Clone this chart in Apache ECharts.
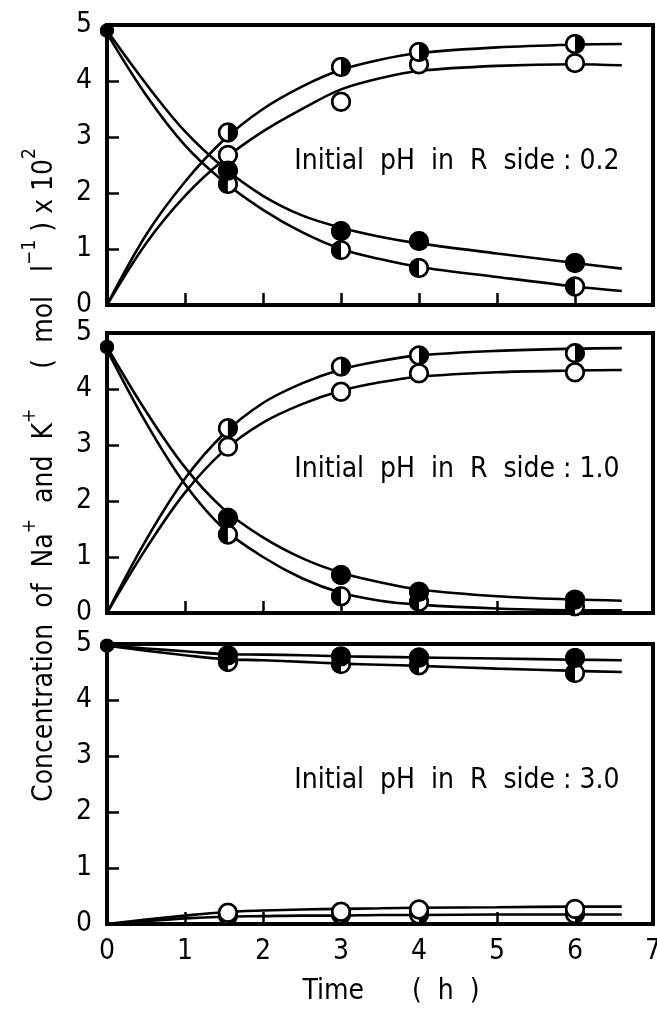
<!DOCTYPE html>
<html>
<head>
<meta charset="utf-8">
<script src="https://cdn.jsdelivr.net/npm/echarts@6/dist/echarts.min.js"></script>
<style>
  html, body { margin: 0; padding: 0; background: #fff; }
  #chart { width: 657px; height: 1027px; }
</style>
</head>
<body>
<div id="chart"></div>
<script>
// time axis (h)
const xTicks = [0, 1, 2, 3, 4, 5, 6, 7];
const yTicks = [0, 1, 2, 3, 4, 5];
const markerTimes = [1.55, 3, 4, 6];
const fitTimes = [0, 0.5, 1, 1.5, 2, 2.5, 3, 3.5, 4, 5, 6, 6.6];
const panelLabels = ["Initial  pH  in  R  side : 0.2", "Initial  pH  in  R  side : 1.0", "Initial  pH  in  R  side : 3.0"];

// start value of the falling curves (t = 0)
const startValues = [4.9, 4.75, 4.97];

// measured points, per panel: halfRight (◑), open (○), filled (●), halfLeft (◐)
const p1HalfRight = [3.08, 4.25, 4.52, 4.66];
const p1Open = [2.68, 3.63, 4.3, 4.32];
const p1Filled = [2.4, 1.32, 1.14, 0.75];
const p1HalfLeft = [2.16, 0.98, 0.66, 0.33];

const p2HalfRight = [3.3, 4.4, 4.6, 4.64];
const p2Open = [2.97, 3.95, 4.28, 4.3];
const p2Filled = [1.7, 0.68, 0.38, 0.24];
const p2HalfLeft = [1.4, 0.3, 0.2, 0.12];

const p3HalfRight = [0.15, 0.17, 0.17, 0.18];
const p3Open = [0.2, 0.22, 0.26, 0.27];
const p3Filled = [4.8, 4.78, 4.76, 4.75];
const p3HalfLeft = [4.68, 4.64, 4.62, 4.48];

// fitted curves (at fitTimes)
const p1FitHalfRight = [0, 1.25, 2.2, 2.95, 3.5, 3.9, 4.2, 4.38, 4.5, 4.6, 4.65, 4.66];
const p1FitOpen = [0, 1.1, 1.95, 2.6, 3.1, 3.5, 3.85, 4.05, 4.18, 4.27, 4.3, 4.28];
const p1FitFilled = [4.9, 3.95, 3.1, 2.45, 1.95, 1.6, 1.38, 1.22, 1.1, 0.92, 0.75, 0.65];
const p1FitHalfLeft = [4.85, 3.75, 2.85, 2.2, 1.7, 1.3, 1.0, 0.82, 0.68, 0.5, 0.33, 0.25];

const p2FitHalfRight = [0, 1.3, 2.4, 3.2, 3.75, 4.1, 4.35, 4.5, 4.6, 4.68, 4.72, 4.73];
const p2FitOpen = [0, 1.15, 2.15, 2.9, 3.4, 3.73, 3.97, 4.12, 4.22, 4.3, 4.33, 4.34];
const p2FitFilled = [4.75, 3.6, 2.6, 1.85, 1.35, 0.98, 0.72, 0.55, 0.42, 0.3, 0.24, 0.22];
const p2FitHalfLeft = [4.7, 3.4, 2.3, 1.5, 1.0, 0.62, 0.36, 0.22, 0.15, 0.08, 0.05, 0.05];

const p3FitHalfRight = [0, 0.05, 0.1, 0.13, 0.14, 0.15, 0.15, 0.16, 0.16, 0.17, 0.17, 0.17];
const p3FitOpen = [0, 0.08, 0.15, 0.21, 0.24, 0.26, 0.27, 0.28, 0.29, 0.3, 0.31, 0.31];
const p3FitFilled = [4.97, 4.92, 4.87, 4.82, 4.81, 4.8, 4.78, 4.77, 4.76, 4.74, 4.72, 4.71];
const p3FitHalfLeft = [4.97, 4.88, 4.8, 4.73, 4.71, 4.68, 4.65, 4.63, 4.61, 4.56, 4.52, 4.5];

const FONT = '"Liberation Sans Narrow", "DejaVu Sans Condensed", "Liberation Sans", sans-serif';

const svgSym = (half) => {
  let fill = "";
  if (half === "right") fill = "<path d='M10 1.6 A8.4 8.4 0 0 1 10 18.4 Z' fill='black'/>";
  if (half === "left") fill = "<path d='M10 1.6 A8.4 8.4 0 0 0 10 18.4 Z' fill='black'/>";
  const bg = half === "full" ? "black" : "white";
  const svg = "<svg xmlns='http://www.w3.org/2000/svg' width='20' height='20'>" +
    "<circle cx='10' cy='10' r='8.4' fill='" + bg + "' stroke='black' stroke-width='2.6'/>" + fill + "</svg>";
  return "image://data:image/svg+xml;charset=utf-8," + encodeURIComponent(svg);
};
const SYM = { halfRight: svgSym("right"), open: svgSym("none"), filled: svgSym("full"), halfLeft: svgSym("left") };

const panels = [
  { top: 25, marks: { halfRight: p1HalfRight, open: p1Open, filled: p1Filled, halfLeft: p1HalfLeft },
    fits: [p1FitHalfRight, p1FitOpen, p1FitFilled, p1FitHalfLeft] },
  { top: 333, marks: { halfRight: p2HalfRight, open: p2Open, filled: p2Filled, halfLeft: p2HalfLeft },
    fits: [p2FitHalfRight, p2FitOpen, p2FitFilled, p2FitHalfLeft] },
  { top: 644, marks: { halfRight: p3HalfRight, open: p3Open, filled: p3Filled, halfLeft: p3HalfLeft },
    fits: [p3FitHalfRight, p3FitOpen, p3FitFilled, p3FitHalfLeft] },
];

const grids = [], xAxes = [], yAxes = [], series = [];
panels.forEach((p, i) => {
  grids.push({
    left: 107, width: 546, top: p.top, height: 280,
    show: true, borderColor: "#000", borderWidth: 4, backgroundColor: "transparent",
    containLabel: false, outerBoundsMode: "none",
  });
  xAxes.push({
    gridIndex: i, type: "value", min: 0, max: 7, interval: 1,
    axisLine: { show: false },
    axisTick: { show: true, inside: true, length: 12, lineStyle: { color: "#000", width: 2.5 } },
    splitLine: { show: false },
    axisLabel: { show: i === 2, color: "#000", fontSize: 28, fontFamily: FONT, margin: 14,
      formatter: (v) => (xTicks.includes(v) ? String(v) : "") },
  });
  yAxes.push({
    gridIndex: i, type: "value", min: 0, max: 5, interval: 1,
    axisLine: { show: false },
    axisTick: { show: true, inside: true, length: 12, lineStyle: { color: "#000", width: 2.5 } },
    splitLine: { show: false },
    axisLabel: { color: "#000", fontSize: 28, fontFamily: FONT, margin: 15,
      formatter: (v) => (yTicks.includes(v) ? String(v) : "") },
  });
  p.fits.forEach((fit) => {
    series.push({
      type: "line", xAxisIndex: i, yAxisIndex: i, smooth: 0.35, showSymbol: false,
      silent: true, z: 2,
      lineStyle: { color: "#000", width: 2.6 },
      data: fitTimes.map((t, k) => [t, fit[k]]),
    });
  });
  // start point of falling curves
  series.push({
    type: "scatter", xAxisIndex: i, yAxisIndex: i, symbol: SYM.filled, symbolSize: 15, z: 3,
    itemStyle: { opacity: 1 },
    data: [[0, startValues[i]]],
  });
  const order = i === 2 ? ["halfLeft", "filled", "halfRight", "open"] : ["open", "halfRight", "halfLeft", "filled"];
  order.forEach((key) => {
    series.push({
      type: "scatter", xAxisIndex: i, yAxisIndex: i, symbol: SYM[key], symbolSize: 21, z: 4,
      itemStyle: { opacity: 1 },
      data: markerTimes.map((t, k) => [t, p.marks[key][k]]),
    });
  });
});

const graphic = [];
panels.forEach((p, i) => {
  graphic.push({
    type: "text", x: 457, y: p.top + 137, z: 10,
    style: { text: panelLabels[i], font: "28px " + FONT, fill: "#000", align: "center", verticalAlign: "middle" },
  });
});
graphic.push({
  type: "text", x: 40, y: 475, rotation: Math.PI / 2, z: 10,
  style: {
    text: "{t|Concentration  of  Na}{s|+}{t|  and  K}{s|+}{t|     (  mol   l}{s|−1}{t| ) x 10}{s|2}",
    align: "center", verticalAlign: "middle",
    rich: {
      t: { fontSize: 28, fontFamily: FONT, fill: "#000", color: "#000", lineHeight: 38, verticalAlign: "bottom" },
      s: { fontSize: 19, fontFamily: FONT, fill: "#000", color: "#000", lineHeight: 38, verticalAlign: "top" },
    },
  },
});
graphic.push({
  type: "text", x: 391, y: 992, z: 10,
  style: { text: "Time      (  h  )", font: "28px " + FONT, fill: "#000", align: "center", verticalAlign: "middle" },
});

const chart = echarts.init(document.getElementById("chart"), null, { renderer: "canvas" });
chart.setOption({
  animation: false,
  backgroundColor: "#fff",
  grid: grids,
  xAxis: xAxes,
  yAxis: yAxes,
  series: series,
  graphic: graphic,
});
</script>
</body>
</html>
